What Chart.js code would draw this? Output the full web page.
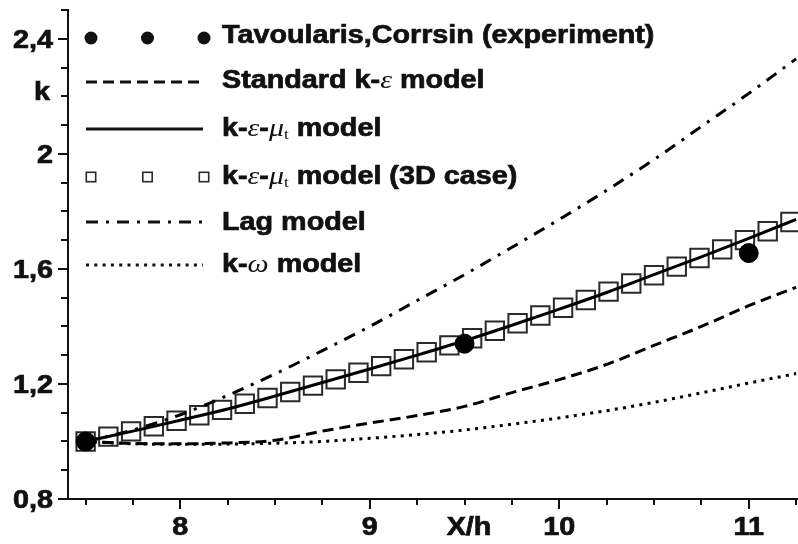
<!DOCTYPE html>
<html>
<head>
<meta charset="utf-8">
<script src="https://cdn.jsdelivr.net/npm/chart.js@4.4.0/dist/chart.umd.min.js"></script>
<style>
  html, body { margin: 0; padding: 0; background: #fff; }
  canvas { display: block; }
</style>
</head>
<body>
<canvas id="chart" width="798" height="544"></canvas>
<script>
// Turbulent kinetic energy k along X/h for several turbulence models
const xGrid    = [7.5, 7.75, 8, 8.25, 8.5, 8.75, 9, 9.25, 9.5, 9.75, 10, 10.25, 10.5, 10.75, 11, 11.25];
const kStandard = [1.000, 0.993, 0.992, 0.995, 1.004, 1.036, 1.064, 1.090, 1.122, 1.170, 1.215, 1.268, 1.334, 1.400, 1.472, 1.536];
const kMut      = [1.000, 1.036, 1.074, 1.113, 1.158, 1.205, 1.252, 1.300, 1.350, 1.404, 1.460, 1.518, 1.580, 1.642, 1.706, 1.772];
const kLag      = [1.000, 1.040, 1.093, 1.160, 1.235, 1.316, 1.400, 1.490, 1.580, 1.675, 1.772, 1.873, 1.980, 2.095, 2.210, 2.330];
const kOmega    = [1.000, 0.992, 0.990, 0.991, 0.994, 1.000, 1.011, 1.024, 1.040, 1.060, 1.082, 1.107, 1.136, 1.169, 1.203, 1.236];

// 3D computation (k-ε-μt)
const x3D = [7.50, 7.62, 7.74, 7.86, 7.98, 8.10, 8.22, 8.34, 8.46, 8.58, 8.70, 8.82, 8.94, 9.06, 9.18, 9.30,
             9.42, 9.54, 9.66, 9.78, 9.90, 10.02, 10.14, 10.26, 10.38, 10.50, 10.62, 10.74, 10.86, 10.98, 11.10, 11.22];
const k3D = [1.000, 1.017, 1.035, 1.053, 1.072, 1.091, 1.110, 1.131, 1.151, 1.172, 1.194, 1.216, 1.239, 1.262, 1.286, 1.310,
             1.334, 1.359, 1.385, 1.411, 1.438, 1.465, 1.492, 1.521, 1.549, 1.578, 1.608, 1.638, 1.668, 1.700, 1.731, 1.763];

// Experiment (Tavoularis & Corrsin)
const xExp = [7.5, 9.5, 11.0];
const kExp = [1.0, 1.34, 1.655];

// Axis ticks
const xTickValues = [7.5, 7.75, 8, 8.25, 8.5, 8.75, 9, 9.25, 9.5, 9.75, 10, 10.25, 10.5, 10.75, 11, 11.25];
const xLabelValues = [8, 9, 10, 11];
const xLabelTexts  = ['8', '9', '10', '11'];
const yTickValues = [0.8, 0.9, 1.0, 1.1, 1.2, 1.3, 1.4, 1.5, 1.6, 1.7, 1.8, 1.9, 2.0, 2.1, 2.2, 2.3, 2.4, 2.5];
const yLabelValues = [0.8, 1.2, 1.6, 2.0, 2.4];
const yLabelTexts  = ['0,8', '1,2', '1,6', '2', '2,4'];

const SANS = '"Liberation Sans", Arial, sans-serif';
const SERIF = '"Liberation Serif", "DejaVu Serif", serif';
const SX = 1.15;           // horizontal stretch of all text
const INK = '#111';

const DASH_STD = [11, 6];
const DASH_LAG = [12, 8, 3, 8];
const DASH_OMEGA = [3, 5.3];

const pts = (xs, ys) => xs.map((x, i) => ({ x: x, y: ys[i] }));
const isIn = (v, arr) => arr.some(a => Math.abs(a - v) < 1e-6);

function paintText(ctx, txt, heavy) {
  ctx.fillText(txt, 0, 0);
  if (heavy) {
    ctx.lineWidth = 0.7;
    ctx.strokeStyle = ctx.fillStyle;
    ctx.strokeText(txt, 0, 0);
  }
}

function stretchText(ctx, txt, x, y, align) {
  ctx.save();
  ctx.translate(x, y);
  ctx.scale(SX, 1);
  ctx.textAlign = align;
  ctx.textBaseline = 'alphabetic';
  paintText(ctx, txt, true);
  ctx.restore();
}

// text runs: [text, font, baseline shift]
function drawRuns(ctx, runs, x, y) {
  let cx = x;
  runs.forEach(r => {
    ctx.font = r[1];
    ctx.save();
    ctx.translate(cx, y + (r[2] || 0));
    ctx.scale(SX, 1);
    ctx.textAlign = 'left';
    ctx.textBaseline = 'alphabetic';
    paintText(ctx, r[0], r[1].indexOf('bold') === 0);
    ctx.restore();
    cx += ctx.measureText(r[0]).width * SX;
  });
}

const B = 'bold 25px ' + SANS;
const GR = 'italic 26px ' + SERIF;
const SUB = '15px ' + SERIF;

const legendLabels = [
  [['Tavoularis,Corrsin (experiment)', B]],
  [['Standard k-', B], ['\u03B5', GR], [' model', B]],
  [['k-', B], ['\u03B5', GR], ['-', B], ['\u03BC', GR], ['t', SUB, 3], [' model', B]],
  [['k-', B], ['\u03B5', GR], ['-', B], ['\u03BC', GR], ['t', SUB, 3], [' model (3D case)', B]],
  [['Lag model', B]],
  [['k-', B], ['\u03C9', GR], [' model', B]]
];

const axisPlugin = {
  id: 'axisMarks',
  afterDraw(chart) {
    const { ctx, chartArea: a } = chart;
    const xs = chart.scales.x, ys = chart.scales.y;
    ctx.save();
    ctx.strokeStyle = INK;
    ctx.lineWidth = 2;
    ctx.beginPath();
    xTickValues.forEach(v => {
      const px = Math.round(xs.getPixelForValue(v));
      const len = isIn(v, xLabelValues) ? 10 : 6;
      ctx.moveTo(px, a.bottom);
      ctx.lineTo(px, a.bottom + len);
    });
    yTickValues.forEach(v => {
      const py = Math.round(ys.getPixelForValue(v));
      const len = isIn(v, yLabelValues) ? 10 : 7;
      ctx.moveTo(a.left - len, py);
      ctx.lineTo(a.left, py);
    });
    ctx.stroke();

    ctx.fillStyle = INK;
    ctx.font = 'bold 25px ' + SANS;
    xLabelValues.forEach((v, i) => {
      stretchText(ctx, xLabelTexts[i], xs.getPixelForValue(v), a.bottom + 36, 'center');
    });
    yLabelValues.forEach((v, i) => {
      stretchText(ctx, yLabelTexts[i], a.left - 15, ys.getPixelForValue(v) + 9, 'right');
    });
    stretchText(ctx, 'X/h', 469, a.bottom + 36, 'center');
    stretchText(ctx, 'k', 42, 100, 'center');
    ctx.restore();
  }
};

const legendPlugin = {
  id: 'keyBox',
  afterDraw(chart) {
    const ctx = chart.ctx;
    const x0 = 86, x1 = 203, tx = 222;
    const symY = [38, 82, 129, 177, 222, 265];
    const txtY = [43, 88, 136, 184, 230, 272];
    ctx.save();
    ctx.fillStyle = INK;
    ctx.strokeStyle = INK;
    // experiment dots
    [91, 147.5, 204].forEach(cx => {
      ctx.beginPath();
      ctx.arc(cx, symY[0], 6.5, 0, Math.PI * 2);
      ctx.fill();
    });
    // lines
    const seg = (y, dash) => {
      ctx.save();
      ctx.lineWidth = 3;
      ctx.lineCap = 'butt';
      ctx.setLineDash(dash);
      ctx.beginPath();
      ctx.moveTo(x0, y);
      ctx.lineTo(x1, y);
      ctx.stroke();
      ctx.restore();
    };
    seg(symY[1], DASH_STD);
    seg(symY[2], []);
    seg(symY[4], DASH_LAG);
    seg(symY[5], DASH_OMEGA);
    // squares
    ctx.lineWidth = 1.6;
    ctx.strokeStyle = '#2a2a2a';
    [91, 147.5, 204].forEach(cx => {
      ctx.strokeRect(cx - 4.7, symY[3] - 4.7, 9.4, 9.4);
    });
    ctx.fillStyle = INK;
    legendLabels.forEach((runs, i) => drawRuns(ctx, runs, tx, txtY[i]));
    ctx.restore();
  }
};

new Chart(document.getElementById('chart'), {
  type: 'line',
  data: {
    datasets: [
      {
        label: 'Tavoularis,Corrsin (experiment)',
        data: pts(xExp, kExp),
        showLine: false,
        pointStyle: 'circle',
        pointRadius: 9.5,
        pointBackgroundColor: '#000',
        pointBorderColor: '#000',
        pointBorderWidth: 1,
        order: 0
      },
      {
        label: 'k-ε-μt model',
        data: pts(xGrid, kMut),
        borderColor: '#000',
        borderWidth: 3,
        pointRadius: 0,
        order: 1
      },
      {
        label: 'k-ε-μt model (3D case)',
        data: pts(x3D, k3D),
        showLine: false,
        pointStyle: 'rect',
        pointRadius: 13,
        pointBorderWidth: 2,
        pointBorderColor: '#2a2a2a',
        pointBackgroundColor: 'rgba(0,0,0,0)',
        order: 4
      },
      {
        label: 'Standard k-ε model',
        data: pts(xGrid, kStandard),
        borderColor: '#000',
        borderWidth: 3,
        borderDash: DASH_STD,
        pointRadius: 0,
        order: 2
      },
      {
        label: 'Lag model',
        data: pts(xGrid, kLag),
        borderColor: '#000',
        borderWidth: 3,
        borderDash: DASH_LAG,
        pointRadius: 0,
        order: 2
      },
      {
        label: 'k-ω model',
        data: pts(xGrid, kOmega),
        borderColor: '#000',
        borderWidth: 3,
        borderDash: DASH_OMEGA,
        pointRadius: 0,
        order: 2
      }
    ]
  },
  options: {
    responsive: false,
    animation: false,
    devicePixelRatio: 1,
    layout: { autoPadding: false, padding: { top: 10, left: 0, right: 0, bottom: 0 } },
    plugins: { legend: { display: false }, tooltip: { enabled: false } },
    elements: { line: { cubicInterpolationMode: 'monotone', borderCapStyle: 'butt' } },
    scales: {
      x: {
        type: 'linear',
        min: 7.407,
        max: 11.26,
        grid: { display: false },
        ticks: { display: false },
        border: { display: true, color: INK, width: 2 },
        afterFit: s => { s.height = 45; }
      },
      y: {
        type: 'linear',
        min: 0.8,
        max: 2.5,
        grid: { display: false },
        ticks: { display: false },
        border: { display: true, color: INK, width: 2 },
        afterFit: s => { s.width = 68; }
      }
    }
  },
  plugins: [axisPlugin, legendPlugin]
});
</script>
</body>
</html>
